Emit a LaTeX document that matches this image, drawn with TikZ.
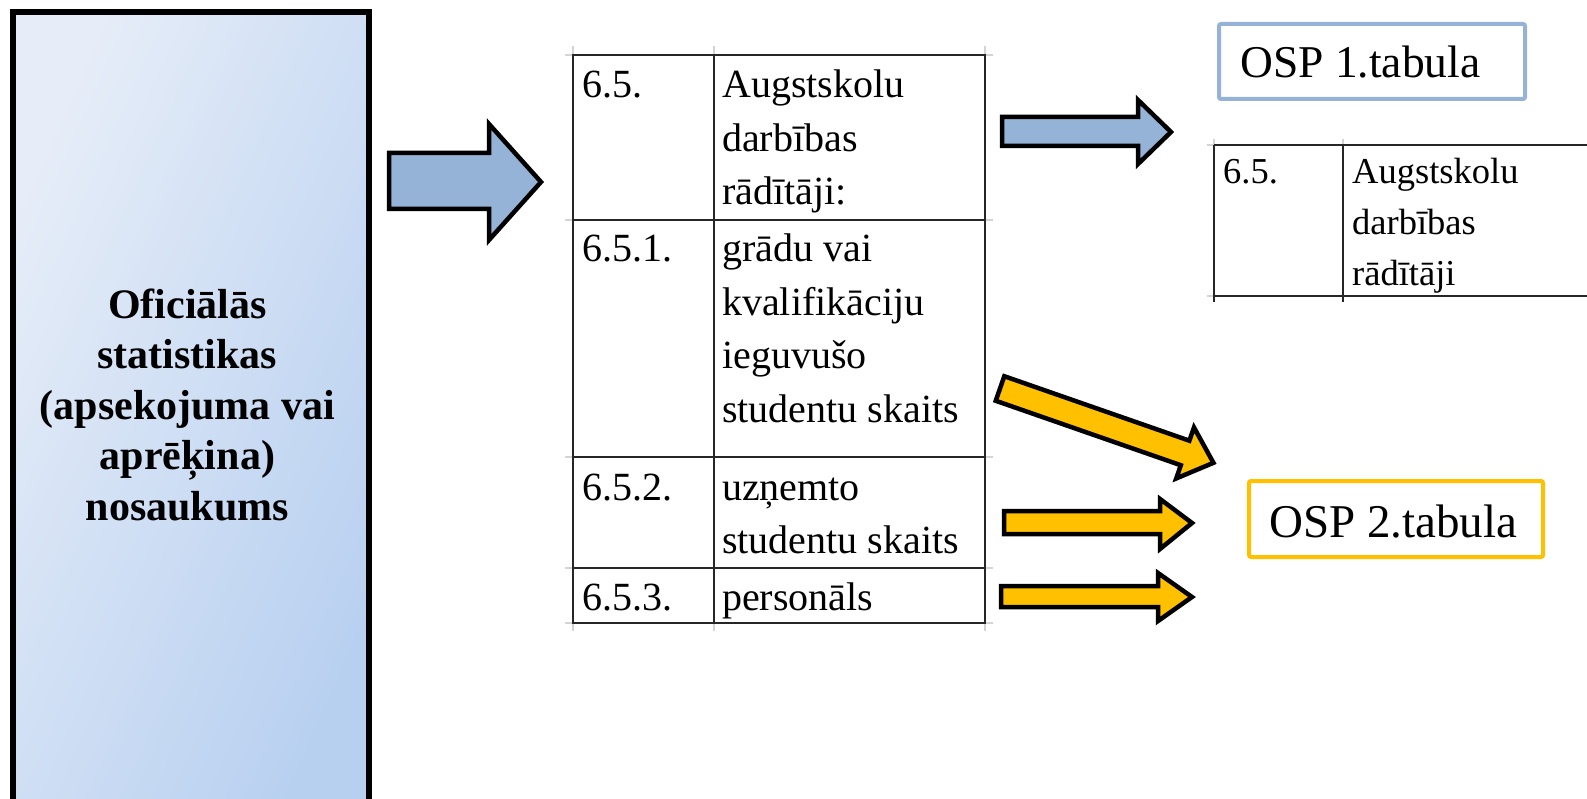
\documentclass[tikz,border=0pt]{standalone}
\usepackage{fontspec}
\setmainfont{Liberation Serif}
\definecolor{arrblue}{HTML}{95B3D7}
\definecolor{arryel}{HTML}{FFC000}
\definecolor{gridgray}{HTML}{D4D4D4}
\definecolor{tabline}{HTML}{262626}
\definecolor{lbA}{HTML}{E6EDF8}
\definecolor{lbD}{HTML}{B8D0F0}
\begin{document}
\begin{tikzpicture}[x=1pt,y=-1pt,
  fatarrow/.style={draw=black, line width=4.5pt, line join=miter, miter limit=10},
  tabrule/.style={draw=tabline, line width=2pt},
  gridext/.style={draw=gridgray, line width=2pt},
  celltext/.style={anchor=north west, inner sep=0pt, align=left, font=\fontsize{40}{53.5}\selectfont},
  smallcell/.style={anchor=north west, inner sep=0pt, align=left, font=\fontsize{36.5}{51}\selectfont},
  osplabel/.style={anchor=base west, inner sep=0pt}]
\useasboundingbox (0,0) rectangle (1587,799);
\clip (0,0) rectangle (1587,799);

% left box
\node[name=src, draw=black, line width=6pt, top color=lbA, bottom color=lbD,
      shading angle=66, anchor=north west, inner sep=0pt,
      minimum width=355.5pt, minimum height=806pt] at (10,9) {};
\node[name=srctext, anchor=north, inner sep=0pt, align=center,
      font=\bfseries\fontsize{42}{50.5}\selectfont] at (187.5,282.65)
  {\strut Oficiālās\\statistikas\\(apsekojuma vai\\aprēķina)\\nosaukums};

% big blue arrow
\draw[fatarrow, fill=arrblue] (389,153) -- (489,153) -- (489,124) -- (541,182)
  -- (489,240) -- (489,209) -- (389,209) -- cycle;

% main table: grid extensions
\foreach \xx in {573,714,985} {
  \draw[gridext] (\xx,46) -- (\xx,55);
  \draw[gridext] (\xx,623) -- (\xx,631);
}
\foreach \yy in {55,220,457,568,623} {
  \draw[gridext] (565,\yy) -- (573,\yy);
  \draw[gridext] (985,\yy) -- (993,\yy);
}
% main table rules
\draw[tabrule] (573,55) rectangle (985,623);
\draw[tabrule] (714,55) -- (714,623);
\foreach \yy in {220,457,568} { \draw[tabrule] (573,\yy) -- (985,\yy); }

% main table text
\node[celltext, name=c1a] at (582,97.5-37.45) {\strut 6.5.};
\node[celltext, name=c1b] at (722,97.5-37.45) {\strut Augstskolu\\darbības\\rādītāji:};
\node[celltext, name=c2a] at (582,261.7-37.45) {\strut 6.5.1.};
\node[celltext, name=c2b] at (722,261.7-37.45) {\strut grādu vai\\kvalifikāciju\\ieguvušo\\studentu skaits};
\node[celltext, name=c3a] at (582,500-37.45) {\strut 6.5.2.};
\node[celltext, name=c3b] at (722,500-37.45) {\strut uzņemto\\studentu skaits};
\node[celltext, name=c4a] at (582,610-37.45) {\strut 6.5.3.};
\node[celltext, name=c4b] at (722,610-37.45) {\strut personāls};

% small blue arrow
\draw[fatarrow, fill=arrblue] (1002,117) -- (1138,117) -- (1138,100) -- (1171,132)
  -- (1138,164) -- (1138,146) -- (1002,146) -- cycle;

% OSP 1 box
\node[name=osp1, draw=arrblue, line width=4pt, rounded corners=2pt, anchor=north west,
      inner sep=0pt, minimum width=306pt, minimum height=75pt] at (1217,22) {};
\node[osplabel, name=osp1text, font=\fontsize{45.5}{50}\selectfont] at (1240,78) {OSP 1.tabula};

% right table
\draw[gridext] (1214,139) -- (1214,145);
\draw[gridext] (1343,139) -- (1343,145);
\draw[gridext] (1207,145) -- (1214,145);
\draw[gridext] (1207,296) -- (1214,296);
\draw[tabrule] (1214,145) -- (1587,145);
\draw[tabrule] (1214,296) -- (1587,296);
\draw[tabrule] (1214,145) -- (1214,302);
\draw[tabrule] (1343,145) -- (1343,302);
\node[smallcell, name=r1a] at (1223,183-35.7) {\strut 6.5.};
\node[smallcell, name=r1b] at (1352,183-35.7) {\strut Augstskolu\\darbības\\rādītāji};

% yellow arrows
\begin{scope}[shift={(1000,388.5)}, rotate=-19.2]
\draw[fatarrow, fill=arryel] (0,-13) -- (196,-13) -- (196,-27) -- (226,0)
  -- (196,27) -- (196,13) -- (0,13) -- cycle;
\end{scope}
\draw[fatarrow, fill=arryel] (1004,511) -- (1160,511) -- (1160,499) -- (1192,523)
  -- (1160,549) -- (1160,534) -- (1004,534) -- cycle;
\draw[fatarrow, fill=arryel] (1001,586) -- (1158,586) -- (1158,573) -- (1192,597)
  -- (1158,621) -- (1158,607) -- (1001,607) -- cycle;

% OSP 2 box
\node[name=osp2, draw=arryel, line width=4pt, rounded corners=2pt, anchor=north west,
      inner sep=0pt, minimum width=294pt, minimum height=76pt] at (1247,479) {};
\node[osplabel, name=osp2text, font=\fontsize{47}{52}\selectfont] at (1269,537) {OSP 2.tabula};
\end{tikzpicture}
\end{document}
